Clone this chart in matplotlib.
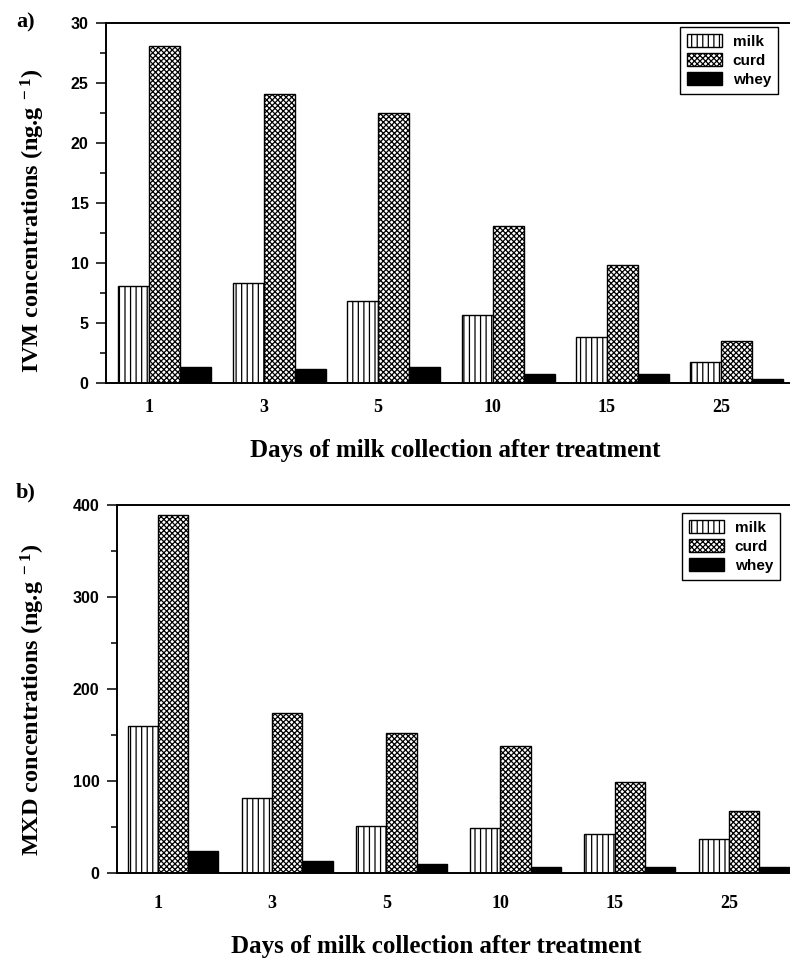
import matplotlib
matplotlib.use("Agg")
import matplotlib.pyplot as plt
import numpy as np
from matplotlib.ticker import MultipleLocator

# data
days = ["1", "3", "5", "10", "15", "25"]
ivm_milk = [8.1, 8.35, 6.8, 5.65, 3.85, 1.7]
ivm_curd = [28.1, 24.1, 22.45, 13.1, 9.85, 3.5]
ivm_whey = [1.33, 1.15, 1.28, 0.7, 0.7, 0.33]
mxd_milk = [160, 81.5, 51, 49, 42, 36.5]
mxd_curd = [389.5, 173.5, 152.5, 137.5, 99, 67]
mxd_whey = [24, 12.5, 9, 6.5, 6.5, 6]
series_names = ["milk", "curd", "whey"]

plt.rcParams["mathtext.fontset"] = "custom"
plt.rcParams["mathtext.rm"] = "Liberation Serif:bold"
plt.rcParams["mathtext.bf"] = "Liberation Serif:bold"
plt.rcParams["mathtext.it"] = "Liberation Serif:bold"
plt.rcParams["hatch.linewidth"] = 0.9

W, H = 790, 959
fig = plt.figure(figsize=(W / 100, H / 100), dpi=100)

serif = dict(family="Liberation Serif", weight="bold")

styles = [dict(facecolor="white", hatch="|||"),
          dict(facecolor="white", hatch="xxxxxx"),
          dict(facecolor="black", hatch=None)]


def panel(rect, xlim, values, ylim, major, minor, bar_w, ylabel, ylab_pos,
          xlab_pos, xpad, legend_anchor):
    ax = fig.add_axes(rect)
    x = np.arange(len(days))
    offsets = [-0.5, 0.5, 1.5]
    for vals, off, st, name in zip(values, offsets, styles, series_names):
        ax.bar(x + off * bar_w, vals, bar_w, edgecolor="black",
               linewidth=1.0, label=name, **st)
    ax.set_xlim(*xlim)
    ax.set_ylim(*ylim)
    ax.set_xticks(x)
    ax.set_xticklabels(days, fontsize=13, **serif)
    ax.tick_params(axis="x", length=0, pad=xpad)
    ax.yaxis.set_major_locator(MultipleLocator(major))
    ax.yaxis.set_minor_locator(MultipleLocator(minor))
    ax.tick_params(axis="y", which="major", length=7, width=1.1, pad=5.5)
    ax.tick_params(axis="y", which="minor", length=4.3, width=1.1)
    for lab in ax.get_yticklabels():
        lab.set_fontfamily("Liberation Sans")
        lab.set_fontweight("bold")
        lab.set_fontsize(11.5)
    ax.spines["right"].set_visible(False)
    for s in ["left", "top", "bottom"]:
        ax.spines[s].set_linewidth(1.4)
    fig.text(ylab_pos[0] / W, 1 - ylab_pos[1] / H, ylabel, rotation=90,
             ha="center", va="center", fontsize=17.5, **serif)
    fig.text(xlab_pos[0] / W, 1 - xlab_pos[1] / H,
             "Days of milk collection after treatment",
             ha="center", va="center", fontsize=18, **serif)
    leg = ax.legend(loc="upper right",
                    bbox_to_anchor=(legend_anchor[0] / W, 1 - legend_anchor[1] / H),
                    bbox_transform=fig.transFigure, borderaxespad=0,
                    fancybox=False, framealpha=1, edgecolor="black",
                    prop=dict(family="Liberation Sans", weight="bold", size=11),
                    handlelength=2.3, handleheight=0.92, labelspacing=0.3,
                    handletextpad=0.7, borderpad=0.45)
    leg.get_frame().set_linewidth(1.0)
    return ax


# panel a
panel([106 / W, 1 - 382.7 / H, (795.7 - 106) / W, 360 / H],
      (-0.3785, 5.65), [ivm_milk, ivm_curd, ivm_whey], (0, 30), 5, 2.5, 0.271,
      r"IVM concentrations (ng.g$^{\ -1}$)", (33, 221), (455, 451), 12,
      (778, 27))
fig.text(26 / W, 1 - 22 / H, "a)", ha="center", va="center", fontsize=16, **serif)

# panel b
panel([116.7 / W, 1 - 872.7 / H, (795 - 116.7) / W, 367.7 / H],
      (-0.361, 5.579), [mxd_milk, mxd_curd, mxd_whey], (0, 400), 100, 50, 0.265,
      r"MXD concentrations (ng.g$^{\ -1}$)", (33, 700), (436, 947), 16,
      (780, 513))
fig.text(26 / W, 1 - 492 / H, "b)", ha="center", va="center", fontsize=16, **serif)

plt.savefig("out.png", dpi=100)
